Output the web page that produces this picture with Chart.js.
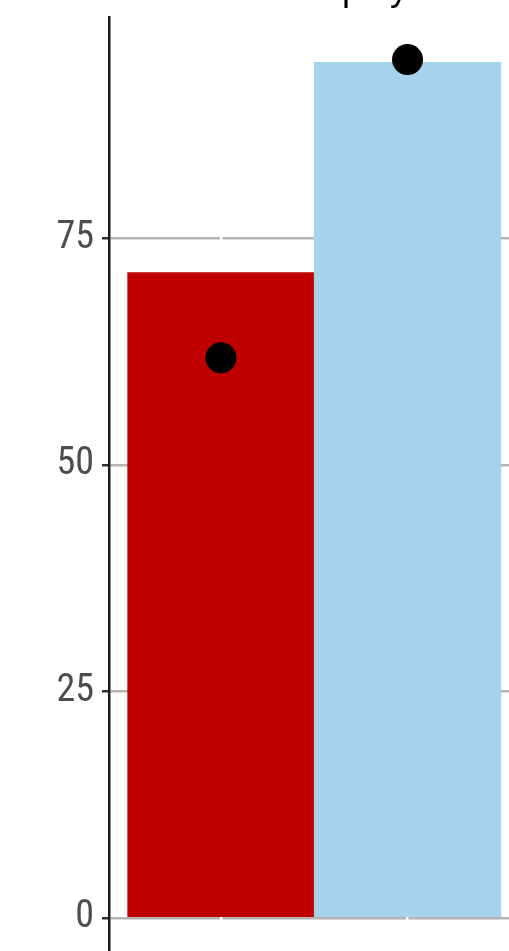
<!DOCTYPE html>
<html>
<head>
<meta charset="utf-8">
<script src="https://cdn.jsdelivr.net/npm/chart.js@4"></script>
<style>
  html, body { margin: 0; padding: 0; background: #fff; overflow: hidden; }
  #wrap { position: absolute; left: 0; top: -60px; width: 535px; height: 1100px; }
</style>
</head>
<body>
<div id="wrap"><canvas id="chart" width="535" height="1100"></canvas></div>
<script>
// Two groups, bar values and point values
const groupPositions = [0, 1];
const barValues = [71.2, 94.4];
const pointValues = [61.8, 94.7];
const barColors = ['#c00000', '#a5d3ec'];
const yTickValues = [0, 25, 50, 75];
const titleText = 'Employment';

// Title sits mostly above the visible window, only descenders show
const titlePlugin = {
    id: 'cutTitle',
    afterDraw(chart) {
        const ctx = chart.ctx;
        ctx.save();
        ctx.font = '36px "Liberation Sans", Arial, sans-serif';
        ctx.fillStyle = '#000';
        ctx.textAlign = 'center';
        ctx.textBaseline = 'alphabetic';
        ctx.fillText(titleText, 388, 60);
        ctx.restore();
    }
};

const ctx = document.getElementById('chart').getContext('2d');

new Chart(ctx, {
    type: 'bar',
    data: {
        datasets: [
            {
                type: 'scatter',
                data: groupPositions.map((x, i) => ({ x: x, y: pointValues[i] })),
                backgroundColor: '#000',
                borderWidth: 0,
                pointRadius: 15.5,
                pointHoverRadius: 15.5,
                order: 0
            },
            {
                type: 'bar',
                data: groupPositions.map((x, i) => ({ x: x, y: barValues[i] })),
                backgroundColor: barColors,
                borderWidth: 0,
                barPercentage: 1,
                categoryPercentage: 1,
                order: 1
            }
        ]
    },
    options: {
        responsive: false,
        animation: false,
        events: [],
        layout: { padding: { top: 77, right: 6, left: 0, bottom: 0 } },
        plugins: {
            legend: { display: false },
            tooltip: { enabled: false },
            title: { display: false }
        },
        scales: {
            y: {
                type: 'linear',
                z: -1,
                min: -4.7,
                max: 99.4,
                afterBuildTicks: scale => {
                    scale.ticks = yTickValues.map(v => ({ value: v }));
                },
                afterFit: scale => { scale.width = 109; },
                grid: {
                    color: '#b3b3b3',
                    lineWidth: 2.5,
                    tickColor: '#333333',
                    tickLength: 7,
                    tickWidth: 2.5
                },
                border: { display: true, color: '#1a1a1a', width: 2.5 },
                ticks: {
                    color: '#4d4d4d',
                    padding: 8,
                    font: { family: '"Roboto Condensed", "Liberation Sans Narrow", "DejaVu Sans Condensed", sans-serif', size: 38 }
                }
            },
            x: {
                type: 'linear',
                offset: false,
                min: -0.6,
                max: 1.6,
                afterBuildTicks: scale => {
                    scale.ticks = groupPositions.map(v => ({ value: v }));
                },
                afterFit: scale => { scale.height = 1100 - 1020.6; },
                grid: {
                    offset: false,
                    color: '#ffffff',
                    lineWidth: 2.5,
                    drawTicks: false
                },
                border: { display: false },
                ticks: { display: false }
            }
        }
    },
    plugins: [titlePlugin]
});
</script>
</body>
</html>
